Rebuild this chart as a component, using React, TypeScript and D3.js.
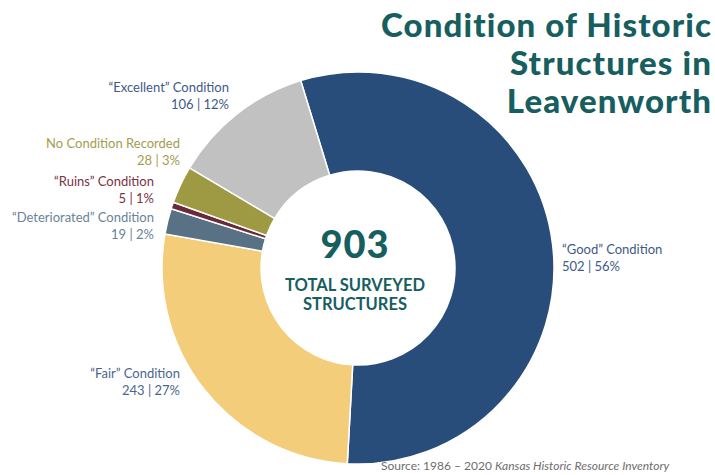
import * as d3 from "d3";
import React from "react";

const categories = ["\u201cGood\u201d Condition", "\u201cFair\u201d Condition", "\u201cDeteriorated\u201d Condition", "\u201cRuins\u201d Condition", "No Condition Recorded", "\u201cExcellent\u201d Condition"];
const counts = [502, 243, 19, 5, 28, 106];
const percents = ["56%", "27%", "2%", "1%", "3%", "12%"];
const sliceColors = ["#294d7b", "#f3cd79", "#587184", "#6b2a3a", "#9e9a44", "#c1c1c1"];
const labelColors = ["#3e5a88", "#4b6590", "#6a8396", "#7a3344", "#a39d4f", "#3e5a88"];
// label anchor points, picked by eye
const labelPos: Array<[number, number, string]> = [
    [562, 254, "start"],
    [180, 378, "end"],
    [154, 222, "end"],
    [154, 186, "end"],
    [180, 148, "end"],
    [229, 92, "end"],
];

const W = 715, H = 475;
const cx = 358, cy = 268;
const outerR = 196, innerR = 97;

export default function App() {
    const startA = (-17 * Math.PI) / 180;
    const pie = d3.pie<number>().sort(null).value(d => d).startAngle(startA).endAngle(startA + 2 * Math.PI);
    const arcs = pie(counts);
    const arc = d3.arc<d3.PieArcDatum<number>>().innerRadius(innerR).outerRadius(outerR);
    const teal = "#165e5f";
    const font = "Lato, 'Open Sans', sans-serif";

    return (
        <svg width={W} height={H} style={{ position: "absolute", left: 0, top: 0, background: "#fff" }}>
            <g transform={`translate(${cx},${cy})`}>
                {arcs.map((a, i) => (
                    <path key={i} d={arc(a) || ""} fill={sliceColors[i]} stroke="#fff" strokeWidth={1.5} />
                ))}
            </g>
            {labelPos.map(([x, y, anchor], i) => (
                <text key={i} x={x} y={y} textAnchor={anchor} fill={labelColors[i]} fontFamily={font} fontSize={13}>
                    <tspan x={x}>{categories[i]}</tspan>
                    <tspan x={x} dy={17}>{`${counts[i]} | ${percents[i]}`}</tspan>
                </text>
            ))}
            <text x={355} y={258} textAnchor="middle" fill={teal} fontFamily={font} fontWeight={900} fontSize={38} letterSpacing={1}>
                {d3.sum(counts)}
            </text>
            <text x={355} y={291} textAnchor="middle" fill={teal} fontFamily={font} fontWeight={700} fontSize={16.5}>
                <tspan x={355}>TOTAL SURVEYED</tspan>
                <tspan x={355} dy={19}>STRUCTURES</tspan>
            </text>
            <text x={712} y={37} textAnchor="end" fill={teal} fontFamily={font} fontWeight={900} fontSize={33} letterSpacing={1.1}>
                <tspan x={712}>Condition of Historic</tspan>
                <tspan x={712} dy={38}>Structures in</tspan>
                <tspan x={712} dy={38}>Leavenworth</tspan>
            </text>
            <text x={381} y={470} fill="#6e6e6e" fontFamily={font} fontSize={12}>
                Source: 1986 – 2020 <tspan fontStyle="italic">Kansas Historic Resource Inventory</tspan>
            </text>
        </svg>
    );
}
